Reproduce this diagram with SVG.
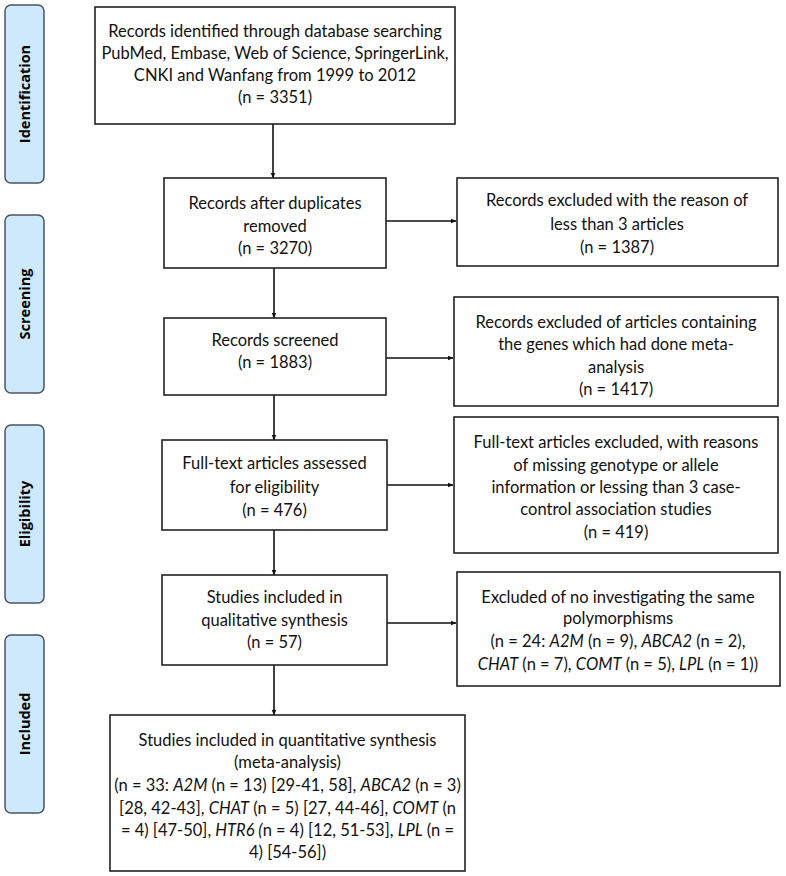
<svg xmlns="http://www.w3.org/2000/svg" width="786" height="876" viewBox="0 0 786 876">
<defs>
<style>
.bg{fill:#ffffff}
.lab rect{fill:#cde9fb;stroke:#4a5561;stroke-width:1.5}
.lab text{font-family:"Open Sans","DejaVu Sans",sans-serif;font-weight:bold;font-size:14.5px;fill:#000;text-anchor:middle}
.node rect{fill:#fff;stroke:#222;stroke-width:1.6}
.node text{font-family:Lato,"Liberation Sans",sans-serif;font-size:16.5px;fill:#111;text-anchor:middle}
.it{font-style:italic}
.edge{stroke:#111;stroke-width:1.6;fill:none;marker-end:url(#ah)}
</style>
<marker id="ah" viewBox="0 0 10 10" refX="9" refY="5" markerWidth="6" markerHeight="6" orient="auto" markerUnits="userSpaceOnUse">
<path d="M0,1 L10,5 L0,9 z" fill="#111"/>
</marker>
</defs>
<rect class="bg" x="0" y="0" width="786" height="876"/>

<g id="label-identification" class="lab"><rect x="5" y="5" width="39" height="178" rx="6"/><text transform="translate(30,94) rotate(-90)">Identification</text></g>
<g id="label-screening" class="lab"><rect x="5" y="215" width="39" height="178" rx="6"/><text transform="translate(30,304) rotate(-90)">Screening</text></g>
<g id="label-eligibility" class="lab"><rect x="5" y="425" width="39" height="178" rx="6"/><text transform="translate(30,514) rotate(-90)">Eligibility</text></g>
<g id="label-included" class="lab"><rect x="5" y="635" width="39" height="178" rx="6"/><text transform="translate(30,724) rotate(-90)">Included</text></g>

<g id="connectors">
<line class="edge" x1="273" y1="124" x2="273" y2="178"/>
<line class="edge" x1="386" y1="221" x2="456" y2="221"/>
<line class="edge" x1="274" y1="268" x2="274" y2="318"/>
<line class="edge" x1="386" y1="358" x2="453" y2="358"/>
<line class="edge" x1="274" y1="395" x2="274" y2="440"/>
<line class="edge" x1="387" y1="485" x2="453" y2="485"/>
<line class="edge" x1="274" y1="530" x2="274" y2="575"/>
<line class="edge" x1="387" y1="623" x2="456" y2="623"/>
<line class="edge" x1="274" y1="665" x2="274" y2="715"/>
</g>

<g id="n-identified" class="node"><rect x="95" y="7" width="360" height="117"/>
<text x="275" y="37">Records identified through database searching</text>
<text x="275" y="59">PubMed, Embase, Web of Science, SpringerLink,</text>
<text x="275" y="81">CNKI and Wanfang from 1999 to 2012</text>
<text x="275" y="103">(n = 3351)</text></g>

<g id="n-duplicates" class="node"><rect x="164" y="178" width="222" height="90"/>
<text x="275" y="209">Records after duplicates</text>
<text x="275" y="232">removed</text>
<text x="275" y="254">(n = 3270)</text></g>

<g id="n-excl1" class="node"><rect x="457" y="178" width="321" height="88"/>
<text x="617" y="206">Records excluded with the reason of</text>
<text x="617" y="230">less than 3 articles</text>
<text x="617" y="253">(n = 1387)</text></g>

<g id="n-screened" class="node"><rect x="164" y="318" width="222" height="77"/>
<text x="275" y="346">Records screened</text>
<text x="275" y="368">(n = 1883)</text></g>

<g id="n-excl2" class="node"><rect x="454" y="297" width="324" height="109"/>
<text x="616" y="328">Records excluded of articles containing</text>
<text x="616" y="350">the genes which had done meta-</text>
<text x="616" y="373">analysis</text>
<text x="616" y="395">(n = 1417)</text></g>

<g id="n-fulltext" class="node"><rect x="162" y="440" width="225" height="90"/>
<text x="274.5" y="469">Full-text articles assessed</text>
<text x="274.5" y="493">for eligibility</text>
<text x="274.5" y="516">(n = 476)</text></g>

<g id="n-excl3" class="node"><rect x="454" y="417" width="324" height="136"/>
<text x="616" y="448">Full-text articles excluded, with reasons</text>
<text x="616" y="471">of missing genotype or allele</text>
<text x="616" y="493">information or lessing than 3 case-</text>
<text x="616" y="515">control association studies</text>
<text x="616" y="538">(n =  419)</text></g>

<g id="n-qualitative" class="node"><rect x="162" y="575" width="225" height="90"/>
<text x="274.5" y="603">Studies included in</text>
<text x="274.5" y="626">qualitative synthesis</text>
<text x="274.5" y="648">(n = 57)</text></g>

<g id="n-excl4" class="node"><rect x="457" y="572" width="323" height="114"/>
<text x="618" y="603">Excluded of no investigating the same</text>
<text x="618" y="624">polymorphisms</text>
<text x="618" y="647">(n = 24: <tspan class="it">A2M</tspan> (n = 9), <tspan class="it">ABCA2</tspan> (n = 2),</text>
<text x="618" y="670"><tspan class="it">CHAT</tspan> (n = 7), <tspan class="it">COMT</tspan> (n = 5), <tspan class="it">LPL</tspan> (n = 1))</text></g>

<g id="n-quantitative" class="node"><rect x="110" y="715" width="355" height="156"/>
<text x="287.5" y="746">Studies included in quantitative synthesis</text>
<text x="287.5" y="768">(meta-analysis)</text>
<text x="287.5" y="791">(n = 33: <tspan class="it">A2M</tspan> (n = 13) [29-41, 58], <tspan class="it">ABCA2</tspan> (n = 3)</text>
<text x="287.5" y="814">[28, 42-43], <tspan class="it">CHAT</tspan> (n = 5) [27, 44-46], <tspan class="it">COMT</tspan> (n</text>
<text x="287.5" y="836">= 4) [47-50], <tspan class="it">HTR6 (</tspan>n = 4) [12, 51-53], <tspan class="it">LPL</tspan> (n =</text>
<text x="287.5" y="858">4) [54-56])</text></g>
</svg>
